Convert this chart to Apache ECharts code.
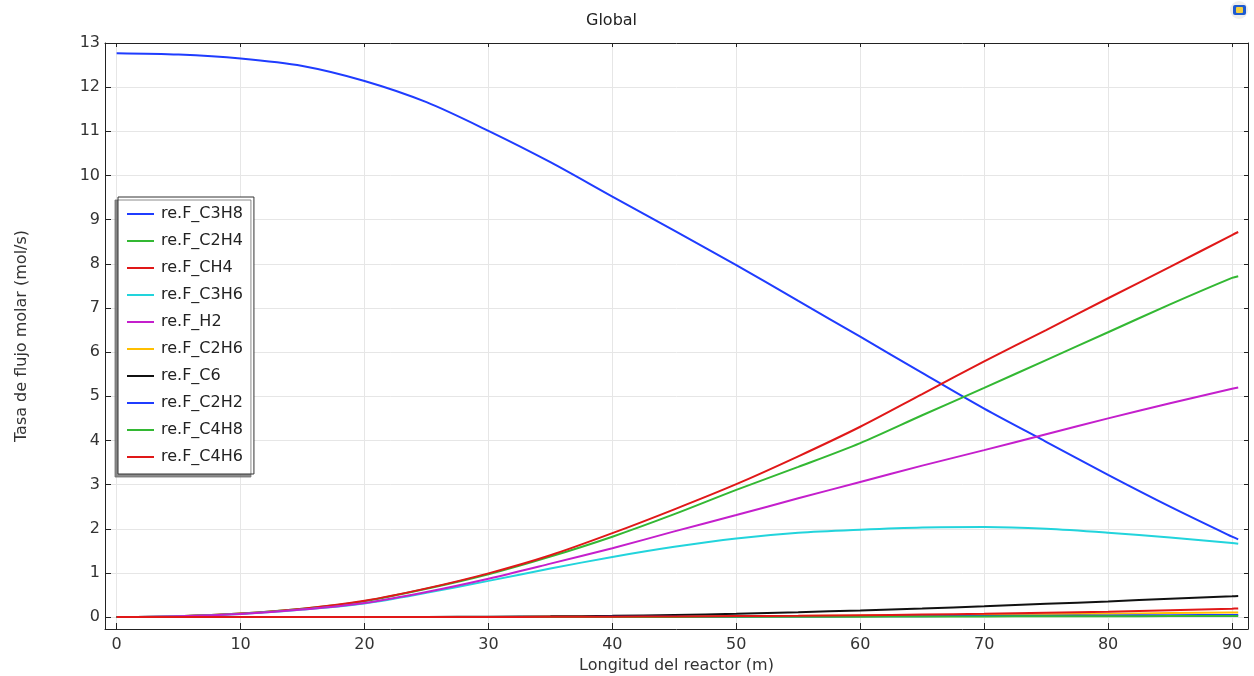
<!DOCTYPE html>
<html>
<head>
<meta charset="utf-8">
<script src="https://cdn.jsdelivr.net/npm/echarts@6/dist/echarts.min.js"></script>
<style>
  html, body { margin: 0; padding: 0; background: #fff; overflow: hidden; }
  #chart { width: 1254px; height: 676px; }
</style>
</head>
<body>
<div id="chart"></div>
<script>
// Position along the reactor (m)
const lengths = [0, 5, 10, 15, 20, 25, 30, 35, 40, 45, 50, 55, 60, 65, 70, 75, 80, 85, 90, 90.5];

// Molar flow rates (mol/s) at each position
const fC3H8 = [12.77, 12.74, 12.65, 12.48, 12.14, 11.66, 11.01, 10.30, 9.52, 8.75, 7.97, 7.16, 6.35, 5.53, 4.72, 3.97, 3.22, 2.50, 1.82, 1.76];
const fC2H4 = [0, 0.02, 0.08, 0.19, 0.36, 0.64, 0.97, 1.37, 1.82, 2.33, 2.88, 3.40, 3.94, 4.57, 5.19, 5.82, 6.45, 7.08, 7.68, 7.72];
const fCH4  = [0, 0.02, 0.08, 0.19, 0.37, 0.65, 0.99, 1.40, 1.90, 2.44, 3.01, 3.64, 4.31, 5.05, 5.79, 6.50, 7.22, 7.93, 8.65, 8.72];
const fC3H6 = [0, 0.02, 0.07, 0.17, 0.31, 0.55, 0.82, 1.10, 1.36, 1.59, 1.78, 1.91, 1.98, 2.03, 2.04, 2.00, 1.91, 1.80, 1.68, 1.66];
const fH2   = [0, 0.02, 0.07, 0.17, 0.32, 0.57, 0.87, 1.21, 1.56, 1.94, 2.31, 2.69, 3.06, 3.43, 3.78, 4.14, 4.50, 4.84, 5.17, 5.20];
const fC2H6 = [0, 0, 0, 0, 0.001, 0.002, 0.003, 0.005, 0.008, 0.012, 0.018, 0.025, 0.033, 0.043, 0.053, 0.065, 0.077, 0.090, 0.103, 0.105];
const fC6   = [0, 0, 0, 0, 0.002, 0.004, 0.008, 0.016, 0.028, 0.048, 0.075, 0.110, 0.150, 0.195, 0.245, 0.300, 0.355, 0.415, 0.470, 0.476];
const fC2H2 = [0, 0, 0, 0, 0, 0.001, 0.002, 0.003, 0.005, 0.007, 0.010, 0.013, 0.017, 0.021, 0.026, 0.031, 0.036, 0.042, 0.048, 0.049];
const fC4H8 = [0, 0, 0, 0, 0, 0.001, 0.001, 0.002, 0.003, 0.004, 0.006, 0.008, 0.010, 0.012, 0.015, 0.017, 0.020, 0.023, 0.026, 0.026];
const fC4H6 = [0, 0, 0, 0, 0.001, 0.002, 0.003, 0.005, 0.010, 0.015, 0.022, 0.030, 0.042, 0.057, 0.075, 0.097, 0.122, 0.155, 0.190, 0.195];

const seriesNames = ['re.F_C3H8', 're.F_C2H4', 're.F_CH4', 're.F_C3H6', 're.F_H2',
                     're.F_C2H6', 're.F_C6', 're.F_C2H2', 're.F_C4H8', 're.F_C4H6'];
const seriesValues = [fC3H8, fC2H4, fCH4, fC3H6, fH2, fC2H6, fC6, fC2H2, fC4H8, fC4H6];
const seriesColors = ['#1f3cff', '#33b833', '#e01818', '#22d4dc', '#c41fcc',
                      '#ffbf00', '#111111', '#1f3cff', '#33b833', '#e01818'];

// Tick positions
const xTicks = [0, 10, 20, 30, 40, 50, 60, 70, 80, 90];
const yTicks = [0, 1, 2, 3, 4, 5, 6, 7, 8, 9, 10, 11, 12, 13];

const FONT = 'DejaVu Sans';
const chart = echarts.init(document.getElementById('chart'), null, { renderer: 'canvas' });

// The frame extends slightly beyond the data range on every side
const baseX = { type: 'value', min: -0.94, max: 91.29, gridIndex: 0 };
const baseY = { type: 'value', min: -0.27, max: 13, gridIndex: 0 };

const option = {
  animation: false,
  backgroundColor: '#ffffff',
  textStyle: { fontFamily: FONT },
  title: {
    text: 'Global',
    left: 581, top: 8,
    textStyle: { fontFamily: FONT, fontSize: 16, fontWeight: 'normal', color: '#222' }
  },
  grid: { left: 105, right: 6, top: 43, bottom: 47, containLabel: false, outerBoundsMode: 'none' },
  legend: {
    orient: 'vertical',
    left: 118, top: 197,
    padding: [8, 11, 8, 9],
    itemGap: 9,
    itemWidth: 27, itemHeight: 2,
    icon: 'rect',
    backgroundColor: '#ffffff',
    borderColor: '#333',
    borderWidth: 1,
    shadowColor: 'rgba(110,110,110,0.8)',
    shadowBlur: 0,
    shadowOffsetX: -3,
    shadowOffsetY: 3,
    textStyle: { fontFamily: FONT, fontSize: 16, color: '#222', lineHeight: 18, padding: [0, 0, 0, 2] },
    data: seriesNames
  },
  xAxis: [
    Object.assign({}, baseX, {
      position: 'bottom',
      name: 'Longitud del reactor (m)',
      nameLocation: 'middle',
      nameGap: 27,
      nameTextStyle: { fontFamily: FONT, fontSize: 16, color: '#333' },
      axisLine: { show: true, onZero: false, lineStyle: { color: '#222', width: 1 } },
      axisTick: { show: true, inside: true, length: 6, customValues: xTicks, lineStyle: { color: '#222' } },
      axisLabel: { show: true, customValues: xTicks, margin: 8, fontFamily: FONT, fontSize: 16, color: '#333' },
      splitLine: { show: true, lineStyle: { color: '#e6e6e6', width: 1 } }
    }),
    Object.assign({}, baseX, {
      position: 'top',
      axisLine: { show: true, onZero: false, lineStyle: { color: '#222', width: 1 } },
      axisTick: { show: true, inside: true, length: 4, customValues: xTicks, lineStyle: { color: '#222' } },
      axisLabel: { show: false },
      splitLine: { show: false }
    })
  ],
  yAxis: [
    Object.assign({}, baseY, {
      position: 'left',
      name: 'Tasa de flujo molar (mol/s)',
      nameLocation: 'middle',
      nameGap: 75,
      nameTextStyle: { fontFamily: FONT, fontSize: 16, color: '#333' },
      axisLine: { show: true, onZero: false, lineStyle: { color: '#222', width: 1 } },
      axisTick: { show: true, inside: true, length: 6, customValues: yTicks, lineStyle: { color: '#222' } },
      axisLabel: { show: true, customValues: yTicks, margin: 5, fontFamily: FONT, fontSize: 16, color: '#333' },
      splitLine: { show: true, lineStyle: { color: '#e6e6e6', width: 1 } }
    }),
    Object.assign({}, baseY, {
      position: 'right',
      axisLine: { show: true, onZero: false, lineStyle: { color: '#222', width: 1 } },
      axisTick: { show: true, inside: true, length: 4, customValues: yTicks, lineStyle: { color: '#222' } },
      axisLabel: { show: false },
      splitLine: { show: false }
    })
  ],
  graphic: [
    {
      type: 'group', right: 6, top: 1,
      children: [
        { type: 'circle', shape: { cx: 9, cy: 9, r: 9 }, style: { fill: '#eeeeee' } },
        { type: 'rect', shape: { x: 3, y: 4, width: 13, height: 10, r: 2 }, style: { fill: '#1e5bd0' } },
        { type: 'rect', shape: { x: 6, y: 6, width: 7, height: 6, r: 1 }, style: { fill: '#f5d040' } }
      ]
    }
  ],
  series: seriesNames.map((name, i) => ({
    name: name,
    type: 'line',
    xAxisIndex: 0,
    yAxisIndex: 0,
    showSymbol: false,
    symbol: 'none',
    smooth: 0.3,
    color: seriesColors[i],
    lineStyle: { color: seriesColors[i], width: 2 },
    data: lengths.map((x, j) => [x, seriesValues[i][j]])
  }))
};

chart.setOption(option);
</script>
</body>
</html>
